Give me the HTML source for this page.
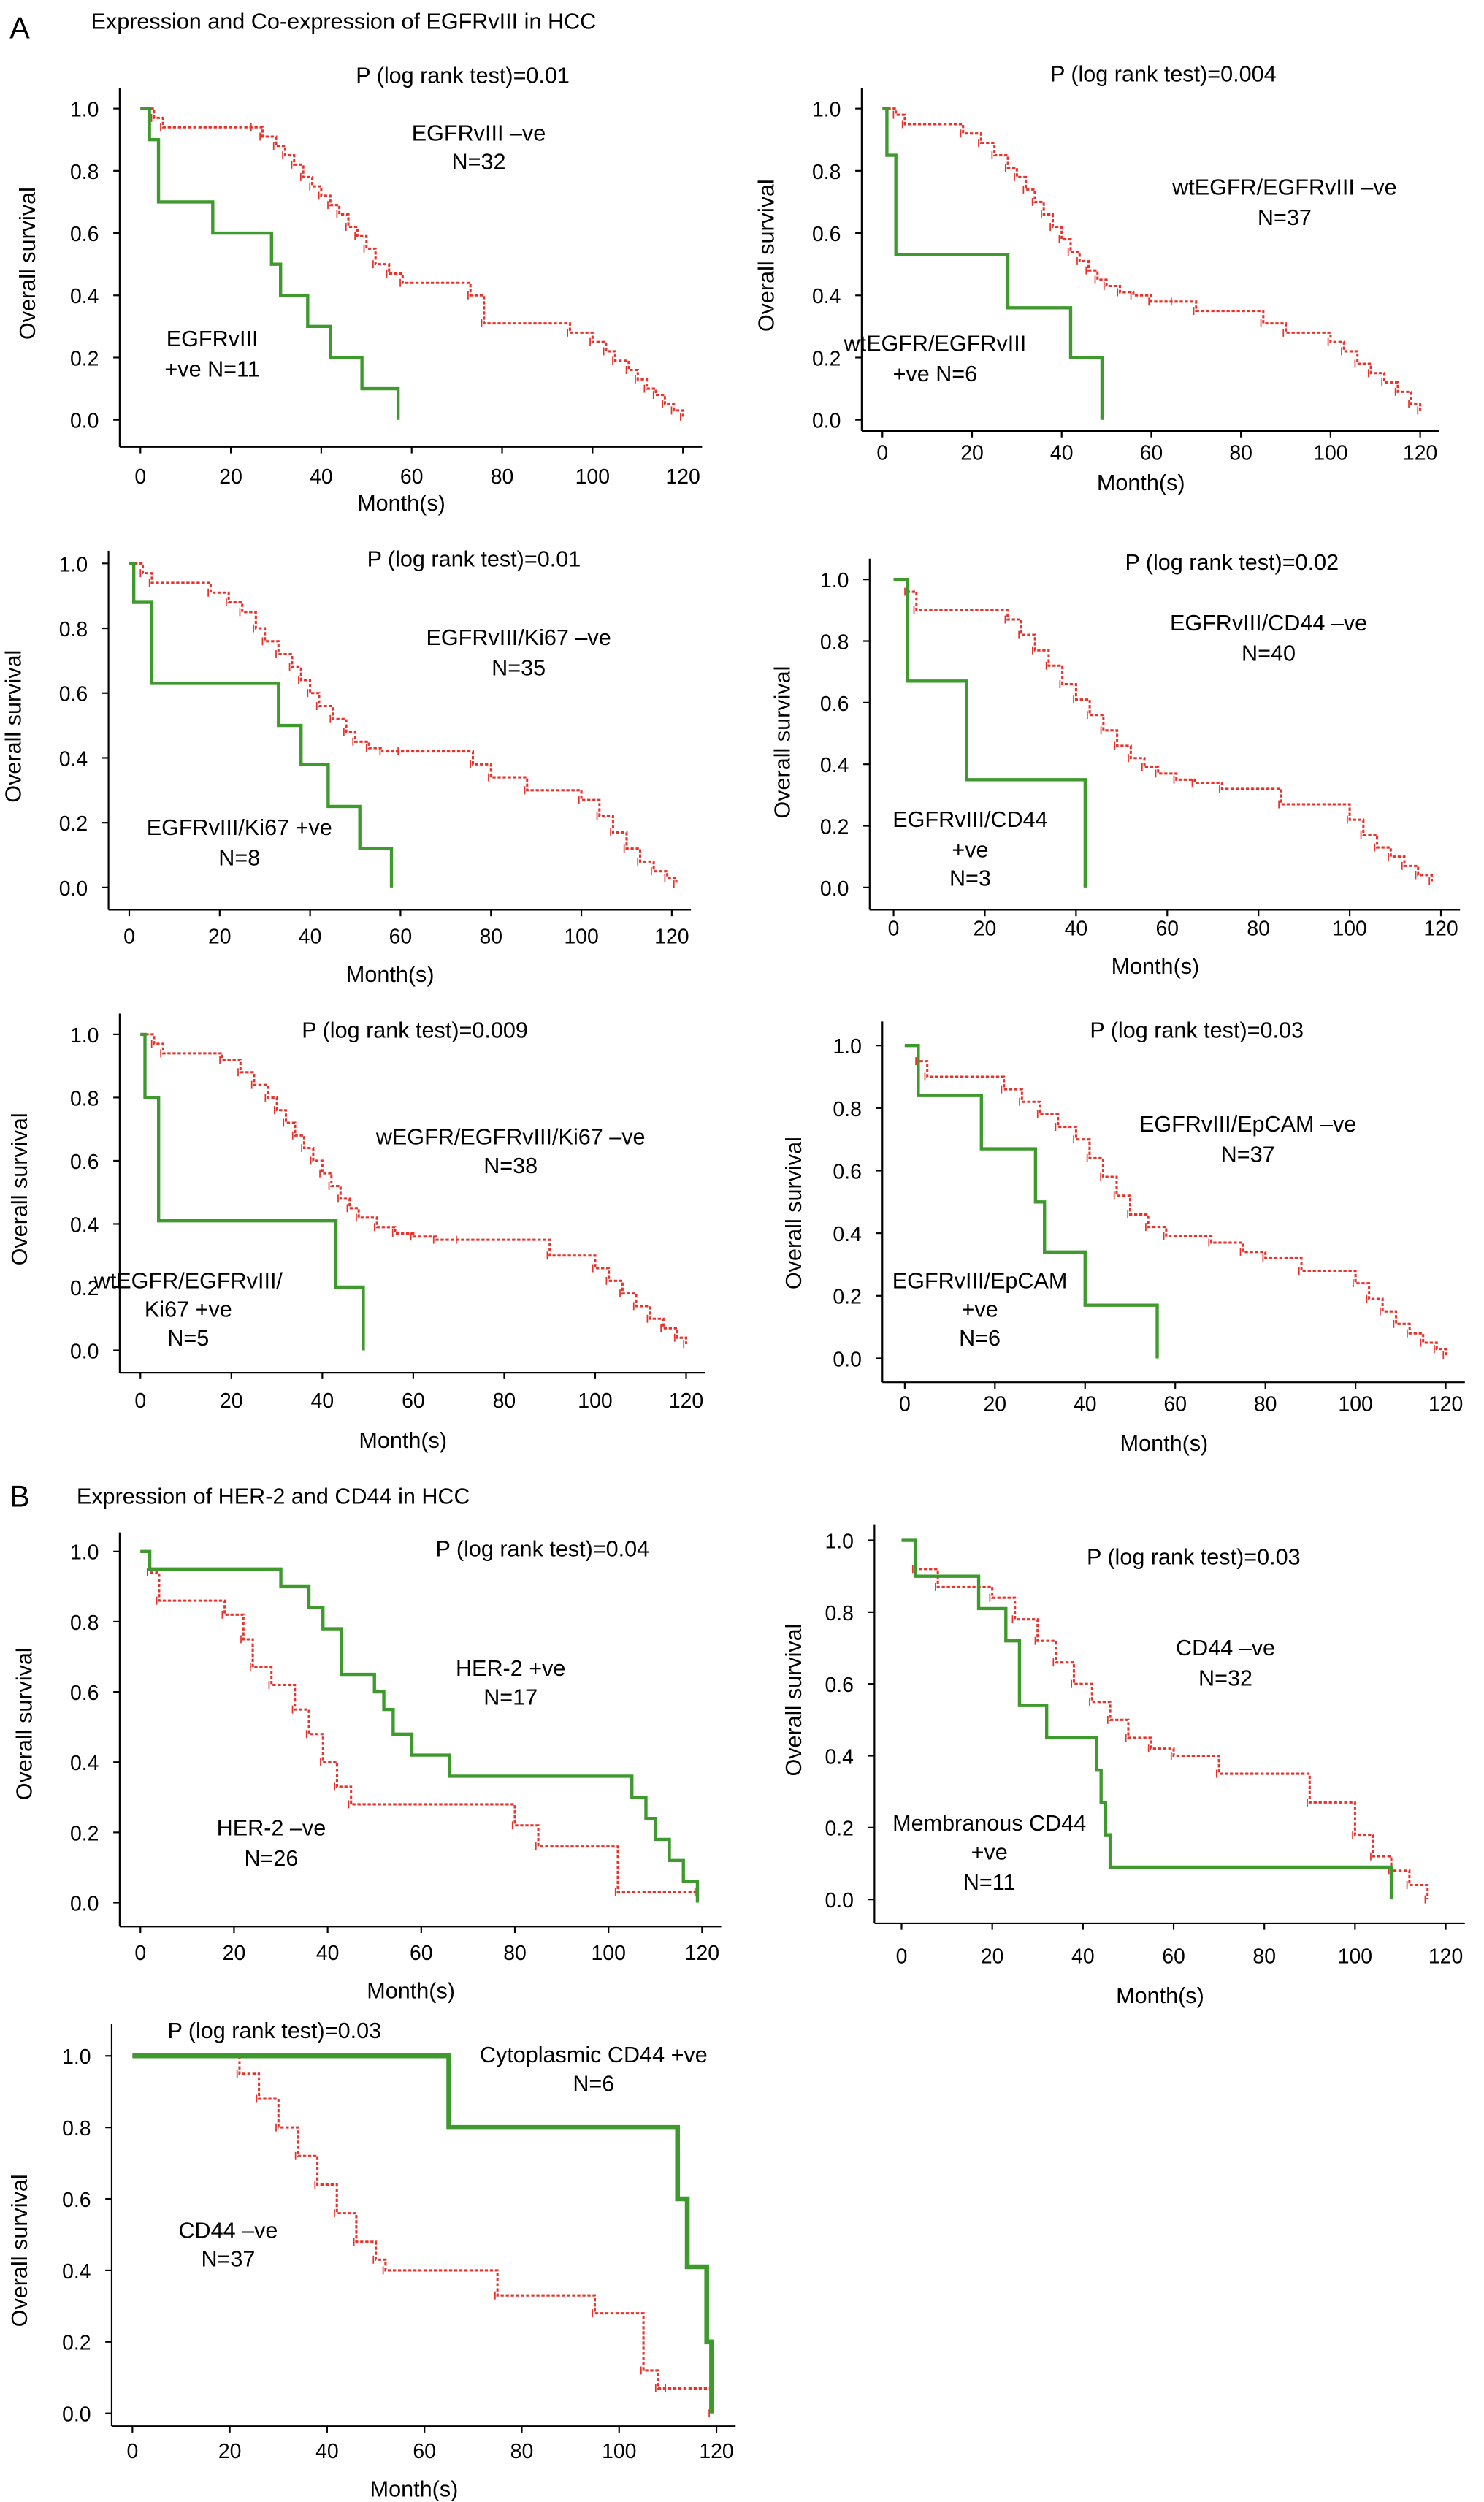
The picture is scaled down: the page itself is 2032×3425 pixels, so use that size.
<!DOCTYPE html>
<html><head><meta charset="utf-8"><style>
html,body{margin:0;padding:0;background:#fff;}
svg{display:block;font-family:"Liberation Sans",Arial,sans-serif;}
</style></head><body>
<svg id="fig" width="2032" height="3425" viewBox="0 0 930 1567.5" xmlns="http://www.w3.org/2000/svg">
<rect width="930" height="1568" fill="#fff"/>
<text x="6" y="24" font-size="19">A</text>
<text x="57" y="18" font-size="14">Expression and Co-expression of EGFRvIII in HCC</text>
<text x="6" y="944" font-size="19">B</text>
<text x="48" y="942" font-size="14">Expression of HER-2 and CD44 in HCC</text>
</svg>
<script>
// ---- data (months, survival) ----
const xTicks = [0,20,40,60,80,100,120];
const yTicks = [0.0,0.2,0.4,0.6,0.8,1.0];
const yTickLabels = ["0.0","0.2","0.4","0.6","0.8","1.0"];

const p1_neg_t = [0,3,5,25,27,30,32,34,36,38,40,42,44,46,48,50,52,55,58,73,76,95,100,103,105,108,110,112,114,116,118,120];
const p1_neg_s = [1,0.97,0.94,0.94,0.91,0.88,0.85,0.82,0.78,0.75,0.72,0.69,0.66,0.62,0.59,0.55,0.5,0.47,0.44,0.40,0.31,0.28,0.25,0.22,0.19,0.16,0.13,0.10,0.08,0.05,0.03,0.01];
const p1_pos_t = [0,2,4,16,29,31,37,42,49,57];
const p1_pos_s = [1,0.9,0.7,0.6,0.5,0.4,0.3,0.2,0.1,0];

const p2_neg_t = [0,3,5,18,22,25,28,30,32,34,36,38,40,42,44,46,48,50,53,56,60,65,70,85,90,100,103,106,109,112,115,118,120];
const p2_neg_s = [1,0.98,0.95,0.92,0.89,0.85,0.81,0.78,0.74,0.70,0.66,0.62,0.58,0.54,0.51,0.48,0.45,0.43,0.41,0.40,0.38,0.38,0.35,0.31,0.28,0.25,0.22,0.18,0.15,0.12,0.09,0.05,0.03];
const p2_pos_t = [0,1,3,28,42,49];
const p2_pos_s = [1,0.85,0.53,0.36,0.2,0];

const p3_neg_t = [0,3,5,18,22,25,28,30,33,36,38,40,42,45,48,50,53,56,60,76,80,88,100,104,107,110,113,116,119,121];
const p3_neg_s = [1,0.97,0.94,0.91,0.88,0.85,0.80,0.76,0.72,0.68,0.64,0.60,0.56,0.52,0.48,0.45,0.43,0.42,0.42,0.38,0.34,0.30,0.27,0.22,0.17,0.12,0.08,0.05,0.03,0.01];
const p3_pos_t = [0,1,5,33,38,44,51,58];
const p3_pos_s = [1,0.88,0.63,0.5,0.38,0.25,0.12,0];

const p4_neg_t = [0,3,5,25,28,31,34,37,40,43,46,49,52,55,58,62,66,72,85,100,103,106,109,112,115,118];
const p4_neg_s = [1,0.96,0.9,0.87,0.82,0.77,0.72,0.66,0.61,0.56,0.51,0.46,0.42,0.39,0.37,0.35,0.34,0.32,0.27,0.22,0.17,0.13,0.1,0.07,0.04,0.02];
const p4_pos_t = [0,3,16,42];
const p4_pos_s = [1,0.67,0.35,0];

const p5_neg_t = [0,3,5,18,22,25,28,30,32,34,36,38,40,42,44,46,48,52,56,60,65,70,90,100,103,106,109,112,115,118,120];
const p5_neg_s = [1,0.97,0.94,0.92,0.88,0.84,0.80,0.76,0.72,0.68,0.64,0.60,0.56,0.52,0.48,0.45,0.42,0.39,0.37,0.36,0.35,0.35,0.30,0.26,0.22,0.18,0.14,0.10,0.07,0.04,0.02];
const p5_pos_t = [0,1,4,43,49];
const p5_pos_s = [1,0.8,0.41,0.2,0];

const p6_neg_t = [0,3,5,22,26,30,34,38,41,44,47,50,54,58,68,75,80,88,100,103,106,109,112,115,118,120];
const p6_neg_s = [1,0.95,0.90,0.86,0.82,0.78,0.74,0.70,0.64,0.58,0.52,0.46,0.42,0.39,0.37,0.34,0.32,0.28,0.24,0.19,0.15,0.11,0.08,0.05,0.03,0.01];
const p6_pos_t = [0,3,17,29,31,40,56];
const p6_pos_s = [1,0.84,0.67,0.5,0.34,0.17,0];

const p7_pos_t = [0,2,30,36,39,43,50,52,54,58,66,105,108,110,113,116,119];
const p7_pos_s = [1,0.95,0.9,0.84,0.78,0.65,0.6,0.55,0.48,0.42,0.36,0.30,0.24,0.18,0.12,0.06,0];
const p7_neg_t = [0,2,4,18,22,24,28,33,36,39,42,45,80,85,102,119];
const p7_neg_s = [1,0.94,0.86,0.82,0.75,0.67,0.62,0.55,0.48,0.40,0.33,0.28,0.22,0.16,0.03,0.03];

const p8_neg_t = [0,3,8,20,25,30,34,38,42,46,50,55,60,70,90,100,104,108,112,116];
const p8_neg_s = [1,0.92,0.87,0.84,0.78,0.72,0.66,0.60,0.55,0.50,0.45,0.42,0.40,0.35,0.27,0.18,0.12,0.08,0.04,0];
const p8_pos_t = [0,3,17,23,26,32,43,44,45,46,108];
const p8_pos_s = [1,0.9,0.81,0.72,0.54,0.45,0.36,0.27,0.18,0.09,0];

const p9_pos_t = [0,65,112,114,118,119];
const p9_pos_s = [1,0.8,0.6,0.41,0.2,0];
const p9_neg_t = [0,22,26,30,34,38,42,46,50,52,75,95,105,108,110,119];
const p9_neg_s = [1,0.95,0.88,0.80,0.72,0.64,0.56,0.48,0.43,0.40,0.33,0.28,0.12,0.07,0.07,0];

// ---- layout configs (display coordinates) ----
const plots = [
 {id:'p1',ax:75,top:55,bot:280,y1:68,y0:263,x0:88,x120:428,tickY:298,mY:315,yl:[22,165],
  pTxt:[290,52,'P (log rank test)=0.01'],
  labels:[[300,88,'EGFRvIII –ve'],[300,106,'N=32'],[133,217,'EGFRvIII'],[133,236,'+ve N=11']],
  neg:[p1_neg_t,p1_neg_s],pos:[p1_pos_t,p1_pos_s]},
 {id:'p2',ax:540,top:55,bot:270,y1:68,y0:263,x0:553,x120:890,tickY:283,mY:302,yl:[485,160],
  pTxt:[729,51,'P (log rank test)=0.004'],
  labels:[[805,122,'wtEGFR/EGFRvIII –ve'],[805,141,'N=37'],[586,220,'wtEGFR/EGFRvIII'],[586,239,'+ve N=6']],
  neg:[p2_neg_t,p2_neg_s],pos:[p2_pos_t,p2_pos_s]},
 {id:'p3',ax:68,top:345,bot:570,y1:353,y0:556,x0:81,x120:421,tickY:586,mY:610,yl:[13,455],
  pTxt:[297,355,'P (log rank test)=0.01'],
  labels:[[325,404,'EGFRvIII/Ki67 –ve'],[325,423,'N=35'],[150,523,'EGFRvIII/Ki67 +ve'],[150,542,'N=8']],
  neg:[p3_neg_t,p3_neg_s],pos:[p3_pos_t,p3_pos_s]},
 {id:'p4',ax:545,top:350,bot:570,y1:363,y0:556,x0:560,x120:903,tickY:581,mY:605,yl:[495,465],
  pTxt:[772,357,'P (log rank test)=0.02'],
  labels:[[795,395,'EGFRvIII/CD44 –ve'],[795,414,'N=40'],[608,518,'EGFRvIII/CD44'],[608,537,'+ve'],[608,555,'N=3']],
  neg:[p4_neg_t,p4_neg_s],pos:[p4_pos_t,p4_pos_s]},
 {id:'p5',ax:75,top:635,bot:860,y1:648,y0:846,x0:88,x120:430,tickY:877,mY:902,yl:[17,745],
  pTxt:[260,650,'P (log rank test)=0.009'],
  labels:[[320,717,'wEGFR/EGFRvIII/Ki67 –ve'],[320,735,'N=38'],[118,807,'wtEGFR/EGFRvIII/'],[118,825,'Ki67 +ve'],[118,843,'N=5']],
  neg:[p5_neg_t,p5_neg_s],pos:[p5_pos_t,p5_pos_s]},
 {id:'p6',ax:553,top:640,bot:866,y1:655,y0:851,x0:567,x120:906,tickY:879,mY:904,yl:[502,760],
  pTxt:[750,650,'P (log rank test)=0.03'],
  labels:[[782,709,'EGFRvIII/EpCAM –ve'],[782,728,'N=37'],[614,807,'EGFRvIII/EpCAM'],[614,825,'+ve'],[614,843,'N=6']],
  neg:[p6_neg_t,p6_neg_s],pos:[p6_pos_t,p6_pos_s]},
 {id:'p7',ax:75,top:960,bot:1207,y1:972,y0:1192,x0:88,x120:440,tickY:1223,mY:1247,yl:[20,1080],
  pTxt:[340,975,'P (log rank test)=0.04'],
  labels:[[320,1050,'HER-2 +ve'],[320,1068,'N=17'],[170,1150,'HER-2 –ve'],[170,1169,'N=26']],
  neg:[p7_neg_t,p7_neg_s],pos:[p7_pos_t,p7_pos_s]},
 {id:'p8',ax:548,top:955,bot:1205,y1:965,y0:1190,x0:565,x120:906,tickY:1225,mY:1250,yl:[502,1065],
  pTxt:[748,980,'P (log rank test)=0.03'],
  labels:[[768,1037,'CD44 –ve'],[768,1056,'N=32'],[620,1147,'Membranous CD44'],[620,1165,'+ve'],[620,1184,'N=11']],
  neg:[p8_neg_t,p8_neg_s],pos:[p8_pos_t,p8_pos_s]},
 {id:'p9',ax:70,top:1268,bot:1520,y1:1288,y0:1512,x0:83,x120:449,tickY:1535,mY:1559,yl:[17,1410],
  pTxt:[172,1277,'P (log rank test)=0.03'],
  labels:[[372,1292,'Cytoplasmic CD44 +ve'],[372,1310,'N=6'],[143,1402,'CD44 –ve'],[143,1420,'N=37']],
  neg:[p9_neg_t,p9_neg_s],pos:[p9_pos_t,p9_pos_s],thick:true}
];

const NS='http://www.w3.org/2000/svg';
const svg=document.getElementById('fig');
function mk(tag,attrs,parent){const e=document.createElementNS(NS,tag);for(const k in attrs)e.setAttribute(k,attrs[k]);(parent||svg).appendChild(e);return e;}

plots.forEach(p=>{
  const g=mk('g',{});
  
  
  const X=m=>p.x0+(p.x120-p.x0)*m/120;
  const Y=s=>p.y0+(p.y1-p.y0)*s;
  const ya=mk('line',{x1:p.ax,y1:p.top,x2:p.ax,y2:p.bot,stroke:'#000','stroke-width':1},g);
  
  
  const xa=mk('line',{x1:p.ax,y1:p.bot,x2:X(120)+12,y2:p.bot,stroke:'#000','stroke-width':1},g);
  
  
  yTicks.forEach((v,i)=>{
    mk('line',{x1:p.ax-4,y1:Y(v),x2:p.ax,y2:Y(v),stroke:'#000','stroke-width':1},g);
    const t=mk('text',{x:p.ax-13,y:Y(v)+5,'font-size':13,'text-anchor':'end'},g);
    t.textContent=yTickLabels[i];
    
    
  });
  xTicks.forEach(v=>{
    mk('line',{x1:X(v),y1:p.bot,x2:X(v),y2:p.bot+4,stroke:'#000','stroke-width':1},g);
    const t=mk('text',{x:X(v),y:p.tickY+5,'font-size':13,'text-anchor':'middle'},g);
    t.textContent=String(v);
    
    
  });
  const xt=mk('text',{x:(p.ax+X(120))/2,y:p.mY+5,'font-size':14,'text-anchor':'middle'},g);
  xt.textContent='Month(s)';
  
  
  const yt=mk('text',{x:p.yl[0],y:p.yl[1],'font-size':14,'text-anchor':'middle',transform:`rotate(-90 ${p.yl[0]} ${p.yl[1]})`},g);
  yt.textContent='Overall survival';
  
  
  const pt=mk('text',{x:p.pTxt[0],y:p.pTxt[1],'font-size':14,'text-anchor':'middle'},g);
  pt.textContent=p.pTxt[2];
  
  
  p.labels.forEach(l=>{
    const t=mk('text',{x:l[0],y:l[1],'font-size':14,'text-anchor':'middle'},g);
    t.textContent=l[2];
    
    
  });
  function step(ts,ss){
    let d=`M${X(ts[0])},${Y(ss[0])}`;
    for(let i=1;i<ts.length;i++){d+=` H${X(ts[i])} V${Y(ss[i])}`;}
    return d;
  }
  const rn=mk('path',{d:step(p.neg[0],p.neg[1]),fill:'none',stroke:'#e8322b','stroke-width':1.4,'stroke-dasharray':'2,1.2'},g);
  
  
  for(let i=1;i<p.neg[0].length;i++){
    const c=mk('line',{x1:X(p.neg[0][i])-1.5,y1:Y(p.neg[1][i])-2.5,x2:X(p.neg[0][i])-1.5,y2:Y(p.neg[1][i])+2.5,stroke:'#e8322b','stroke-width':0.8},g);
    
    
  }
  const gp=mk('path',{d:step(p.pos[0],p.pos[1]),fill:'none',stroke:'#3f9a2e','stroke-width':p.thick?3:2},g);
  
  
});
</script>
</body></html>
